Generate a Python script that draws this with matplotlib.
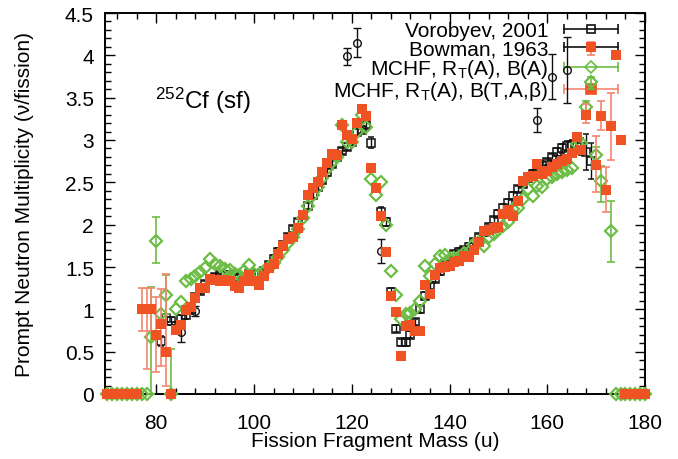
import numpy as np
import matplotlib
matplotlib.use('Agg')
import matplotlib.pyplot as plt
from matplotlib.lines import Line2D
from matplotlib.legend_handler import HandlerLine2D, HandlerTuple
from matplotlib.ticker import MultipleLocator, FuncFormatter

plt.rcParams['font.family'] = ['Liberation Sans', 'DejaVu Sans']
plt.rcParams['mathtext.fontset'] = 'custom'
plt.rcParams['mathtext.rm'] = 'Liberation Sans'
plt.rcParams['mathtext.it'] = 'Liberation Sans:italic'

# ---------------- data ----------------
# Vorobyev, 2001 (masses 81..169)
voro_mass = list(range(81, 170))
voro_nu = [0.63, 0.90, 0.86, 0.80, 0.88, 0.93, 1.00, 1.14, 1.22, 1.30,
           1.35, 1.38, 1.40, 1.40, 1.40, 1.38, 1.37, 1.38, 1.42, 1.42,
           1.42, 1.45, 1.52, 1.60, 1.68, 1.76, 1.85, 1.95, 2.03, 2.12,
           2.22, 2.35, 2.45, 2.53, 2.62, 2.72, 2.80, 2.87, 2.92, 2.98,
           3.09, 3.12, 3.18, 2.97, np.nan, 2.15, 2.03, 1.20, 0.77, 0.61,
           0.61, 0.70, 0.85, 1.00, 1.16, 1.28, 1.36, 1.45, 1.53, 1.58,
           1.65, 1.68, 1.70, 1.74, 1.79, 1.85, 1.91, 1.97, 2.05, 2.13,
           2.20, 2.26, 2.34, 2.42, 2.48, 2.55, 2.60, 2.66, 2.70, 2.74,
           2.80, 2.86, 2.90, 2.93, 2.94, 2.95, 2.92, 2.86, 2.75]
voro_err = [0.06, 0.05, 0.05, 0.05, 0.05, 0.05, 0.05, 0.04, 0.04, 0.04,
            0.04, 0.04, 0.04, 0.04, 0.04, 0.04, 0.04, 0.04, 0.04, 0.04,
            0.04, 0.04, 0.04, 0.04, 0.04, 0.04, 0.04, 0.04, 0.04, 0.04,
            0.04, 0.04, 0.04, 0.04, 0.04, 0.04, 0.04, 0.04, 0.04, 0.04,
            0.04, 0.04, 0.04, 0.07, 0.00, 0.06, 0.05, 0.05, 0.04, 0.04,
            0.04, 0.04, 0.04, 0.04, 0.04, 0.04, 0.04, 0.04, 0.04, 0.04,
            0.04, 0.04, 0.04, 0.04, 0.04, 0.04, 0.04, 0.04, 0.04, 0.04,
            0.04, 0.04, 0.04, 0.04, 0.04, 0.04, 0.04, 0.04, 0.04, 0.04,
            0.04, 0.05, 0.05, 0.06, 0.06, 0.08, 0.10, 0.21, 0.21]

# Bowman, 1963
bow_mass = [85, 88, 119, 121, 126, 158, 161, 164]
bow_nu = [0.73, 0.98, 3.99, 4.15, 1.69, 3.24, 3.75, 3.83]
bow_err = [0.12, 0.06, 0.10, 0.17, 0.14, 0.14, 0.27, 0.39]

# MCHF, R_T(A), B(A)  (green)
ba_mass = list(range(70, 172)) + list(range(173, 181))
ba_nu = [0, 0, 0, 0, 0, 0, 0, 0, 0, 0.67,          # 70-79
         1.81, 0.95, 1.17, 0.00, 1.00, 1.09, 1.33, 1.36, 1.39, 1.44,   # 80-89
         1.49, 1.59, 1.53, 1.51, 1.48, 1.46, 1.42, 1.40, 1.45, 1.52,   # 90-99
         1.42, 1.42, 1.45, 1.50, 1.55, 1.62, 1.70, 1.78, 1.85, 1.95,   # 100-109
         2.08, 2.22, 2.35, 2.44, 2.55, 2.66, 2.74, 2.80, 3.18, 2.98,   # 110-119
         2.98, 3.10, 3.29, 3.15, 2.54, 2.35, 2.50, 2.00, 1.45, 1.17,   # 120-129
         0.89, 0.94, 0.96, 1.00, 1.10, 1.51, 1.39, 1.53, 1.63, 1.64,   # 130-139
         1.60, 1.61, 1.62, 1.67, 1.68, 1.77, 1.80, 1.75, 1.86, 1.89,   # 140-149
         1.94, 1.99, 2.03, 2.18, 2.20, 2.30, 2.42, 2.34, 2.46, 2.44,   # 150-159
         2.54, 2.56, 2.60, 2.62, 2.65, 2.67, 2.95, 2.97, 3.39, 3.68,   # 160-169
         2.82, 2.51,                                                 # 170-171
         1.92, 0, 0, 0, 0, 0, 0, 0]                                  # 173-180
ba_err_mass = [79, 80, 82, 83, 168, 169, 170, 171, 173]
ba_err_low = [0.00, 1.55, 0.95, 0.00, 3.31, 3.60, 2.70, 2.27, 1.56]
ba_err_high = [1.26, 2.09, 1.40, 0.53, 3.46, 3.75, 2.92, 2.69, 2.28]

# MCHF, R_T(A), B(T,A,beta)  (red)
bt_mass = list(range(70, 181))
bt_nu = [0, 0, 0, 0, 0, 0, 0, 1.00, 1.00, 1.00,               # 70-79
         0.70, 0.83, 0.50, 0.00, 0.76, 0.81, 0.99, 1.03, 1.13, 1.25,   # 80-89
         1.25, 1.36, 1.35, 1.34, 1.35, 1.33, 1.28, 1.25, 1.33, 1.41,   # 90-99
         1.34, 1.29, 1.39, 1.49, 1.53, 1.65, 1.75, 1.83, 1.86, 1.96,   # 100-109
         2.12, 2.35, 2.43, 2.50, 2.62, 2.73, 2.83, 2.82, 3.18, 3.06,   # 110-119
         3.01, 3.20, 3.37, 3.28, 2.67, 2.43, 2.10, 1.68, 1.16, 0.97,   # 120-129
         0.45, 0.80, 0.81, 0.74, 0.74, 1.29, 1.18, 1.40, 1.49, 1.50,   # 130-139
         1.51, 1.56, 1.57, 1.63, 1.62, 1.70, 1.79, 1.92, 1.94, 1.96,   # 140-149
         1.97, 2.13, 2.17, 2.10, 2.28, 2.52, 2.56, 2.57, 2.72, 2.60,   # 150-159
         2.63, 2.68, 2.72, 2.75, 2.78, 2.85, 3.03, 2.88, 3.29, 4.10,   # 160-169
         2.70, 3.28, 2.41, 3.17, 4.00, 3.00, 0, 0, 0, 0, 0]           # 170-180
bt_err_mass = [77, 78, 79, 80, 81, 82, 168, 169, 170, 171, 172, 173]
bt_err_low = [0.75, 0.30, 0.75, 0.26, 0.33, 0.10, 3.20, 4.00, 2.38, 3.12, 2.15, 2.76]
bt_err_high = [1.25, 1.25, 1.25, 1.14, 1.24, 1.42, 3.42, 4.16, 3.05, 3.46, 2.68, 3.56]

labels = ['Vorobyev, 2001', 'Bowman, 1963',
          r'MCHF, R$_\mathrm{T}$(A), B(A)',
          r'MCHF, R$_\mathrm{T}$(A), B(T,A,$\mathrm{\beta}$)']

RED = '#EF5323'
RED_BAR = '#F3866E'
GREEN = '#6CBD45'
BLACK = '#111111'

# ---------------- figure ----------------
fig = plt.figure(figsize=(6.78, 4.60), dpi=100)
ax = fig.add_axes([105 / 678, 1 - 395 / 460, 540 / 678, 381 / 460])

# Vorobyev
ax.errorbar(voro_mass, voro_nu, yerr=voro_err, fmt='s', ms=6, mfc='none',
            mec=BLACK, mew=1.1, ecolor=BLACK, elinewidth=1.0, capsize=2.5,
            capthick=1.0, zorder=3)
# Bowman
ax.errorbar(bow_mass, bow_nu, yerr=bow_err, fmt='o', ms=5.5, mfc='none',
            mec=BLACK, mew=1.0, ecolor=BLACK, elinewidth=1.0, capsize=3,
            capthick=1.0, zorder=4)

# green
ba_val = dict(zip(ba_mass, ba_nu))
ba_c = [ba_val[m] for m in ba_err_mass]
ax.errorbar(ba_err_mass, ba_c,
            yerr=[np.array(ba_c) - np.array(ba_err_low), np.array(ba_err_high) - np.array(ba_c)],
            fmt='none', ecolor=GREEN, elinewidth=1.2, capsize=3, capthick=1.2, zorder=5)
ax.plot(ba_mass, ba_nu, ls='none', marker='D', ms=6, mfc='none', mec=GREEN,
        mew=1.6, zorder=6, clip_on=False)

# red
bt_val = dict(zip(bt_mass, bt_nu))
bt_c = [bt_val[m] for m in bt_err_mass]
ax.errorbar(bt_err_mass, bt_c,
            yerr=[np.array(bt_c) - np.array(bt_err_low), np.array(bt_err_high) - np.array(bt_c)],
            fmt='none', ecolor=RED_BAR, elinewidth=1.2, capsize=3, capthick=1.2, zorder=7)
ax.plot(bt_mass, bt_nu, ls='none', marker='s', ms=6.5, mfc=RED, mec=RED,
        mew=0, zorder=8, clip_on=False)

# axes
ax.set_xlim(69.5, 180)
ax.set_ylim(0, 4.5)
ax.xaxis.set_major_locator(MultipleLocator(20))
ax.xaxis.set_minor_locator(MultipleLocator(4))
ax.yaxis.set_major_locator(MultipleLocator(0.5))
ax.yaxis.set_minor_locator(MultipleLocator(0.1))
ax.yaxis.set_major_formatter(FuncFormatter(lambda v, p: ('%g' % v)))
ax.tick_params(which='both', direction='in', top=True, right=True, width=1.0,
               labelsize=15)
ax.tick_params(axis='x', which='both', pad=14)
ax.tick_params(axis='y', which='both', pad=8)
ax.tick_params(which='major', length=7)
ax.tick_params(which='minor', length=4)
for s in ax.spines.values():
    s.set_linewidth(1.4)

ax.set_xlabel('Fission Fragment Mass (u)', fontsize=15, labelpad=-1)
ax.set_ylabel('Prompt Neutron Multiplicity (ν/fission)', fontsize=15, labelpad=22)

ax.text(0.093, 0.772, r'$^{\mathrm{252}}$Cf (sf)', transform=ax.transAxes,
        fontsize=17.5, va='center', ha='left')

# legend with horizontal error-bar samples
handles = []
hmap = {}
specs = [(BLACK, BLACK, 's', 'none', 6), (BLACK, BLACK, 'o', 'none', 5.5),
         (GREEN, GREEN, 'D', 'none', 6), (RED_BAR, RED, 's', RED, 6.5)]
for lc, mc, mk, mf, ms in specs:
    bar = Line2D([], [], color=lc, lw=1.2, marker='|', ms=7, mew=1.2)
    mark = Line2D([], [], ls='none', marker=mk, ms=ms, mfc=mf, mec=mc, mew=1.2)
    hmap[bar] = HandlerLine2D(numpoints=2, marker_pad=0)
    hmap[mark] = HandlerLine2D(numpoints=1)
    handles.append((bar, mark))
hmap[tuple] = HandlerTuple(ndivide=1, pad=0)
leg = ax.legend(handles, labels, handler_map=hmap, loc='upper right',
                bbox_to_anchor=((620 - 105) / 540, 1 - 6 / 381), frameon=False,
                markerfirst=False, fontsize=15, handlelength=2.6,
                handletextpad=0.75, labelspacing=-0.05, borderpad=0.1,
                borderaxespad=0)
leg.set_zorder(2)

fig.savefig('out.png', dpi=100)
